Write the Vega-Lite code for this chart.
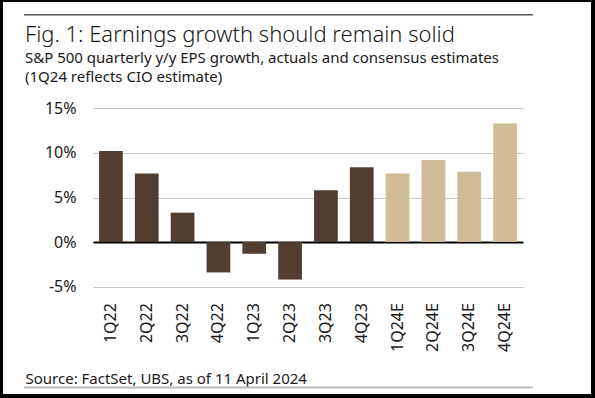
{
  "$schema": "https://vega.github.io/schema/vega-lite/v6.json",
  "width": 588,
  "height": 392,
  "autosize": {"type": "none"},
  "padding": {"left": 3, "top": 2, "right": 4, "bottom": 4},
  "background": "black",
  "config": {
    "view": {"fill": "white", "stroke": null},
    "font": "Noto Sans"
  },
  "title": {
    "text": "Fig. 1: Earnings growth should remain solid",
    "subtitle": ["S&P 500 quarterly y/y EPS growth, actuals and consensus estimates", "(1Q24 reflects CIO estimate)"],
    "anchor": "start",
    "frame": "group",
    "offset": -84,
    "dx": 22,
    "fontSize": 22,
    "fontWeight": 300,
    "color": "#1a1a1a",
    "subtitleFontSize": 15,
    "subtitleColor": "#1a1a1a",
    "subtitlePadding": 4,
    "subtitleLineHeight": 19
  },
  "datasets": {
    "eps": [
      {"quarter": "1Q22", "growth": 10.2, "type": "Actual"},
      {"quarter": "2Q22", "growth": 7.7, "type": "Actual"},
      {"quarter": "3Q22", "growth": 3.3, "type": "Actual"},
      {"quarter": "4Q22", "growth": -3.4, "type": "Actual"},
      {"quarter": "1Q23", "growth": -1.3, "type": "Actual"},
      {"quarter": "2Q23", "growth": -4.2, "type": "Actual"},
      {"quarter": "3Q23", "growth": 5.8, "type": "Actual"},
      {"quarter": "4Q23", "growth": 8.4, "type": "Actual"},
      {"quarter": "1Q24E", "growth": 7.7, "type": "Estimate"},
      {"quarter": "2Q24E", "growth": 9.2, "type": "Estimate"},
      {"quarter": "3Q24E", "growth": 7.9, "type": "Estimate"},
      {"quarter": "4Q24E", "growth": 13.3, "type": "Estimate"}
    ]
  },
  "layer": [
    {
      "data": {"name": "eps"},
      "mark": {"type": "bar"},
      "encoding": {
        "x": {
          "field": "quarter",
          "type": "nominal",
          "sort": null,
          "scale": {
            "domain": ["1Q22", "2Q22", "3Q22", "4Q22", "1Q23", "2Q23", "3Q23", "4Q23", "1Q24E", "2Q24E", "3Q24E", "4Q24E"],
            "range": [90, 520],
            "paddingInner": 0.338,
            "paddingOuter": 0.169
          },
          "axis": {
            "title": "Source: FactSet, UBS, as of 11 April 2024",
            "orient": "bottom",
            "offset": -91.4,
            "labelAngle": -90,
            "labelAlign": "right",
            "labelBaseline": "middle",
            "labelPadding": 0,
            "labelFontSize": 16,
            "labelColor": "#1a1a1a",
            "ticks": false,
            "domain": false,
            "grid": false,
            "titleX": 22,
            "titleY": 80.4,
            "titleAnchor": "start",
            "titleAlign": "left",
            "titleBaseline": "alphabetic",
            "titleFontWeight": "normal",
            "titleFontSize": 15,
            "titleColor": "#1a1a1a"
          }
        },
        "y": {
          "field": "growth",
          "type": "quantitative",
          "scale": {"domain": [-5, 15], "range": [284.7, 106.3], "nice": false, "zero": false},
          "axis": {
            "values": [-5, 0, 5, 10, 15],
            "labelExpr": "datum.value + '%'",
            "title": null,
            "domain": false,
            "ticks": false,
            "labelPadding": 0,
            "offset": -73,
            "labelFontSize": 16,
            "labelColor": "#1a1a1a",
            "grid": true,
            "gridColor": {"condition": {"test": "datum.value === 0", "value": "#000000"}, "value": "#c8c8c8"},
            "gridWidth": {"condition": {"test": "datum.value === 0", "value": 2}, "value": 1}
          }
        },
        "color": {
          "field": "type",
          "type": "nominal",
          "scale": {"domain": ["Actual", "Estimate"], "range": ["#503e32", "#d0bd98"]},
          "legend": null
        }
      }
    },
    {
      "data": {"values": [{}]},
      "mark": {"type": "rule", "color": "#555555", "strokeWidth": 1.5},
      "encoding": {
        "y": {"datum": 25.49, "type": "quantitative"},
        "x": {"datum": "1Q22", "type": "nominal", "bandPosition": -3.164},
        "x2": {"datum": "4Q24E", "bandPosition": 1.678}
      }
    },
    {
      "data": {"values": [{}]},
      "mark": {"type": "rule", "color": "#bbbbbb", "strokeWidth": 2},
      "encoding": {
        "y": {"datum": -16.3, "type": "quantitative"},
        "x": {"datum": "1Q22", "type": "nominal", "bandPosition": -3.164},
        "x2": {"datum": "4Q24E", "bandPosition": 1.678}
      }
    }
  ]
}
